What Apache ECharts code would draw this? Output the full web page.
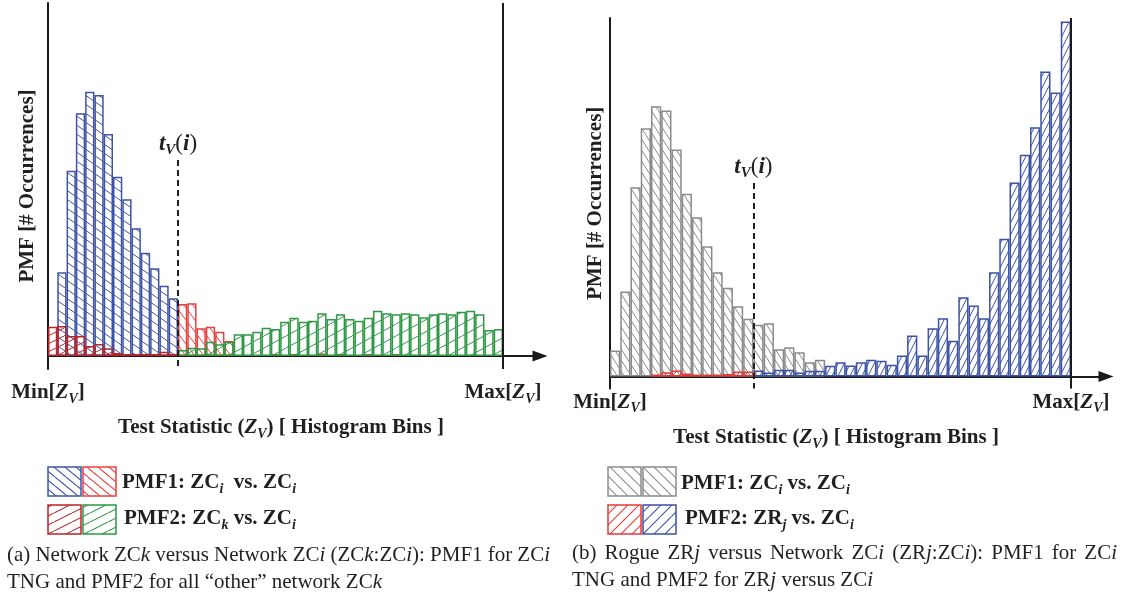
<!DOCTYPE html>
<html>
<head>
<meta charset="utf-8">
<script src="https://cdn.jsdelivr.net/npm/echarts@6/dist/echarts.min.js"></script>
<style>
  html, body { margin: 0; padding: 0; background: #fff; }
  #chart { width: 1127px; height: 603px; }
</style>
</head>
<body>
<div id="chart"></div>
<script>
// ---- Panel (a): ZCk vs ZCi, 49 histogram bins, threshold t_V(i) after bin 14 ----
const binsA = 49;
const thresholdA = 14;
// PMF1 (ZCi vs ZCi): blue below the threshold (bins 0-13), red above it (bins 14-48)
const pmf1BelowA = [0, 83.7, 185.3, 242.7, 264.3, 261, 222, 179.3, 156.7, 127.7, 103.3, 87.7, 70.3, 57.7];
const pmf1AboveA = [52, 52.7, 27.7, 29.3, 24.3, 15, 0, 0, 0, 0, 2, 0, 2, 0, 0, 2.5, 0, 2, 0, 0, 2, 0, 0, 2, 0, 0, 0, 0, 0, 0, 0, 0, 0, 0, 0];
// PMF2 (ZCk vs ZCi): dark red below the threshold, green above it
const pmf2BelowA = [29.3, 30, 20, 20, 10, 12, 7.7, 3, 2, 2, 2, 2, 4.3, 2];
const pmf2AboveA = [6, 8.3, 7.7, 14.3, 11.7, 14.3, 21.7, 21.7, 24.3, 28.3, 27, 34.3, 38.3, 34.3, 35.3, 42.7, 37, 41.7, 37, 35.3,
                    38.3, 45.3, 42.7, 41.7, 42.7, 41.7, 38.7, 41.7, 42.7, 41.7, 44.3, 45.3, 41.7, 26, 27];

// ---- Panel (b): ZRj vs ZCi, 45 histogram bins, threshold after bin 14 ----
const binsB = 45;
const thresholdB = 14;
// PMF1 (ZCi vs ZCi), grey, bins 0-20
const pmf1B = [26, 85, 189.3, 248.3, 270.3, 266, 227, 182.7, 159.3, 130.3, 104.3, 88.7, 70.3, 57.7,
               51.7, 53.3, 27.3, 29.3, 24.3, 14.3, 16.7];
// PMF2 (ZRj vs ZCi): red below the threshold (bins 0-13), blue above it (bins 14-44)
const pmf2BelowB = [0, 0, 0, 0, 2, 4.3, 6, 3, 2, 2, 2, 2.5, 5, 5];
const pmf2AboveB = [6, 4, 6.7, 6.7, 4, 5.7, 5.7, 10.7, 14.3, 11, 14.3, 16.7, 15.7, 11.7, 21, 41, 21, 48.3, 58.3, 35.7,
                    79.3, 71, 58.3, 104.3, 137.7, 194, 221.7, 249.3, 305, 284, 355];

const FONT = 'Liberation Serif';
const INK = '#231f20';
const C = {
  blueA: '#3f53a6', redA: '#e8413f', darkRedA: '#b3262b', greenA: '#2e9845',
  grayB: '#8a8a8a', blueB: '#3c52a5', redB: '#e53a3a'
};

// Repeating hatch tile: parallel lines across a w x h cell, '/' or '\'
function hatch(color, w, h, dir, lw) {
  const c = document.createElement('canvas');
  c.width = w; c.height = h;
  const g = c.getContext('2d');
  g.strokeStyle = color;
  g.lineWidth = lw || 1;
  g.beginPath();
  for (let k = -1; k <= 1; k++) {
    if (dir === '/') { g.moveTo(k * w, h); g.lineTo((k + 1) * w, 0); }
    else { g.moveTo(k * w, 0); g.lineTo((k + 1) * w, h); }
  }
  g.stroke();
  return { image: c, repeat: 'repeat' };
}

const fills = {
  blueA: hatch(C.blueA, 13, 9, '\\'),
  redA: hatch(C.redA, 9, 12, '\\'),
  darkRedA: hatch(C.darkRedA, 16, 8, '/'),
  greenA: hatch(C.greenA, 22, 12, '/'),
  grayB: hatch(C.grayB, 7, 11, '\\'),
  blueB: hatch(C.blueB, 6, 12, '/'),
  redB: hatch(C.redB, 8, 8, '/')
};
const legendFills = {
  blueA: hatch(C.blueA, 11, 9, '\\', 1.1),
  redA: hatch(C.redA, 11, 9, '\\', 1.1),
  darkRedA: hatch(C.darkRedA, 18, 9, '/', 1.1),
  greenA: hatch(C.greenA, 18, 9, '/', 1.1),
  grayB: hatch(C.grayB, 11, 11, '\\', 1.1),
  blueB: hatch(C.blueB, 11, 11, '/', 1.1),
  redB: hatch(C.redB, 11, 11, '/', 1.1)
};

function bars(name, idx, offset, values, color, fill, extra) {
  return Object.assign({
    type: 'bar', name: name, xAxisIndex: idx, yAxisIndex: idx,
    data: values.map((v, i) => [offset + i + 0.5, v]).filter(d => d[1] > 0),
    barWidth: '100%', barGap: '-100%',
    itemStyle: { color: fill, borderColor: color, borderWidth: 1.5 },
    silent: true, animation: false
  }, extra || {});
}

// rich text styles shared by the bold labels
const rb = (size, extra) => Object.assign({ fontFamily: FONT, fontWeight: 'bold', fontSize: size, color: INK, fill: INK, lineHeight: 26, verticalAlign: 'middle' }, extra || {});
const boldRich = {
  b: rb(21),
  bi: rb(21, { fontStyle: 'italic' }),
  s: rb(14, { fontStyle: 'italic', lineHeight: 15, verticalAlign: 'bottom' }),
  t: rb(23, { fontStyle: 'italic', lineHeight: 28 }),
  p: rb(23, { fontWeight: 'normal', lineHeight: 28 }),
  pi: rb(23, { fontStyle: 'italic', lineHeight: 28 }),
  ts: rb(15, { fontStyle: 'italic', lineHeight: 15, verticalAlign: 'bottom' })
};
const tvLabel = '{t|t}{ts|V}{p|(}{pi|i}{p|)}';
const minLabel = '{b|Min[}{bi|Z}{s|V}{b|]}';
const maxLabel = '{b|Max[}{bi|Z}{s|V}{b|]}';

function thresholdMark(thr, top, bottom, maxBin) {
  return {
    silent: true, symbol: 'none', animation: false,
    data: [
      [
        { coord: [thr, top], lineStyle: { type: [6, 4], width: 2, color: INK },
          label: { show: true, position: 'start', distance: 2, formatter: tvLabel, rich: boldRich } },
        { coord: [thr, bottom] }
      ],
      { xAxis: maxBin, lineStyle: { type: 'solid', width: 2, color: '#1a1a1a' }, label: { show: false } }
    ]
  };
}

function xAxis(idx, max, interval, margin) {
  return {
    gridIndex: idx, type: 'value', min: 0, max: max, interval: interval,
    axisLine: { show: true, onZero: true, symbol: ['none', 'triangle'], symbolSize: [11, 15],
                lineStyle: { color: '#1a1a1a', width: 2 } },
    axisTick: { show: false }, splitLine: { show: false },
    axisLabel: {
      margin: margin, rich: boldRich,
      formatter: v => v === 0 ? minLabel : (v === interval ? maxLabel : '')
    }
  };
}
function yAxis(idx, min, max, gap) {
  return {
    gridIndex: idx, type: 'value', min: min, max: max,
    axisLine: { show: true, onZero: false, lineStyle: { color: '#1a1a1a', width: 2 } },
    axisTick: { show: false }, axisLabel: { show: false }, splitLine: { show: false },
    name: 'PMF [# Occurrences]', nameLocation: 'middle', nameRotate: 90, nameGap: gap,
    nameTextStyle: { fontFamily: FONT, fontWeight: 'bold', fontSize: 21, color: INK }
  };
}

// legend / caption helpers (graphic elements)
function box(x, y, fill, stroke) {
  return { type: 'rect', shape: { x: x, y: y, width: 33, height: 29 }, silent: true,
           style: { fill: fill, stroke: stroke, lineWidth: 1.5 } };
}
function txt(x, y, text, rich, align) {
  return { type: 'text', x: x, y: y, silent: true,
           style: { text: text, rich: rich, align: align || 'left', verticalAlign: 'middle', fill: INK } };
}

// caption text: roman / italic runs, first lines spread to the full column width
const CAP = 21;
const measureCtx = document.createElement('canvas').getContext('2d');
function runWidth(str, italic) {
  measureCtx.font = (italic ? 'italic ' : '') + CAP + 'px "' + FONT + '"';
  return measureCtx.measureText(str).width;
}
const rn = (extra) => Object.assign({ fontFamily: FONT, fontSize: CAP, color: INK, fill: INK, lineHeight: 26 }, extra || {});
function runs(word) { return word.map(r => '{' + (r[1] ? 'i' : 'r') + '|' + r[0] + '}').join(''); }
function captionLine(x0, y, words, x1) {
  const rich = { r: rn(), i: rn({ fontStyle: 'italic' }) };
  let gap = runWidth(' ', false);
  if (x1 !== undefined) {
    const used = words.reduce((s, w) => s + w.reduce((a, r) => a + runWidth(r[0], r[1]), 0), 0);
    gap = Math.max(3, (x1 - x0 - used) / (words.length - 1));
  }
  rich.sp = rn({ width: gap });
  const text = words.map(runs).join('{sp|\u00a0}');
  return txt(x0, y, text, rich);
}
const capA1 = [[['(a)', 0]], [['Network', 0]], [['ZC', 0], ['k', 1]], [['versus', 0]], [['Network', 0]], [['ZC', 0], ['i', 1]],
               [['(ZC', 0], ['k', 1], [':ZC', 0], ['i', 1], ['):', 0]], [['PMF1', 0]], [['for', 0]], [['ZC', 0], ['i', 1]]];
const capA2 = [[['TNG', 0]], [['and', 0]], [['PMF2', 0]], [['for', 0]], [['all', 0]], [['\u201cother\u201d', 0]], [['network', 0]], [['ZC', 0], ['k', 1]]];
const capB1 = [[['(b)', 0]], [['Rogue', 0]], [['ZR', 0], ['j', 1]], [['versus', 0]], [['Network', 0]], [['ZC', 0], ['i', 1]],
               [['(ZR', 0], ['j', 1], [':ZC', 0], ['i', 1], ['):', 0]], [['PMF1', 0]], [['for', 0]], [['ZC', 0], ['i', 1]]];
const capB2 = [[['TNG', 0]], [['and', 0]], [['PMF2', 0]], [['for', 0]], [['ZR', 0], ['j', 1]], [['versus', 0]], [['ZC', 0], ['i', 1]]];

const option = {
  backgroundColor: '#fff',
  animation: false,
  grid: [
    { left: 48, right: 1127 - 540, top: 3, bottom: 603 - 369 },
    { left: 610, right: 1127 - 1106, top: 18, bottom: 603 - 388.5 }
  ],
  xAxis: [
    xAxis(0, (540 - 48) / (455 / binsA), binsA, 11),
    xAxis(1, (1106 - 610) / (461 / binsB), binsB, 1)
  ],
  yAxis: [
    yAxis(0, -13, 353, 10),
    yAxis(1, -12, 358.5, 4)
  ],
  series: [
    bars('PMF1 below', 0, 0, pmf1BelowA, C.blueA, fills.blueA,
         { markLine: thresholdMark(thresholdA, 196, -13, binsA) }),
    bars('PMF1 above', 0, thresholdA, pmf1AboveA, C.redA, fills.redA),
    bars('PMF2 below', 0, 0, pmf2BelowA, C.darkRedA, fills.darkRedA),
    bars('PMF2 above', 0, thresholdA, pmf2AboveA, C.greenA, fills.greenA),
    bars('PMF1', 1, 0, pmf1B, C.grayB, fills.grayB,
         { markLine: thresholdMark(thresholdB, 193.5, -12, binsB) }),
    bars('PMF2 below', 1, 0, pmf2BelowB, C.redB, fills.redB),
    bars('PMF2 above', 1, thresholdB, pmf2AboveB, C.blueB, fills.blueB)
  ],
  graphic: [
    // x-axis titles
    txt(281, 428, '{b|Test Statistic (}{bi|Z}{s|V}{b|) [ Histogram Bins ]}', boldRich, 'center'),
    txt(836, 438, '{b|Test Statistic (}{bi|Z}{s|V}{b|) [ Histogram Bins ]}', boldRich, 'center'),
    // legend (a)
    box(48, 467, legendFills.blueA, C.blueA), box(83, 467, legendFills.redA, C.redA),
    box(48, 505, legendFills.darkRedA, C.darkRedA), box(83, 505, legendFills.greenA, C.greenA),
    txt(122, 483, '{b|PMF1: ZC}{s|i}{b|  vs. ZC}{s|i}', boldRich),
    txt(124, 519, '{b|PMF2: ZC}{s|k}{b| vs. ZC}{s|i}', boldRich),
    // legend (b)
    box(608, 467, legendFills.grayB, C.grayB), box(643, 467, legendFills.grayB, C.grayB),
    box(608, 505, legendFills.redB, C.redB), box(643, 505, legendFills.blueB, C.blueB),
    txt(681, 484, '{b|PMF1: ZC}{s|i}{b| vs. ZC}{s|i}', boldRich),
    txt(685, 519, '{b|PMF2: ZR}{s|j}{b| vs. ZC}{s|i}', boldRich),
    // captions
    captionLine(7, 555, capA1, 550),
    captionLine(7, 582, capA2),
    captionLine(572, 553, capB1, 1117),
    captionLine(572, 580, capB2)
  ]
};

const chart = echarts.init(document.getElementById('chart'), null, { renderer: 'canvas' });
chart.setOption(option);
</script>
</body>
</html>
